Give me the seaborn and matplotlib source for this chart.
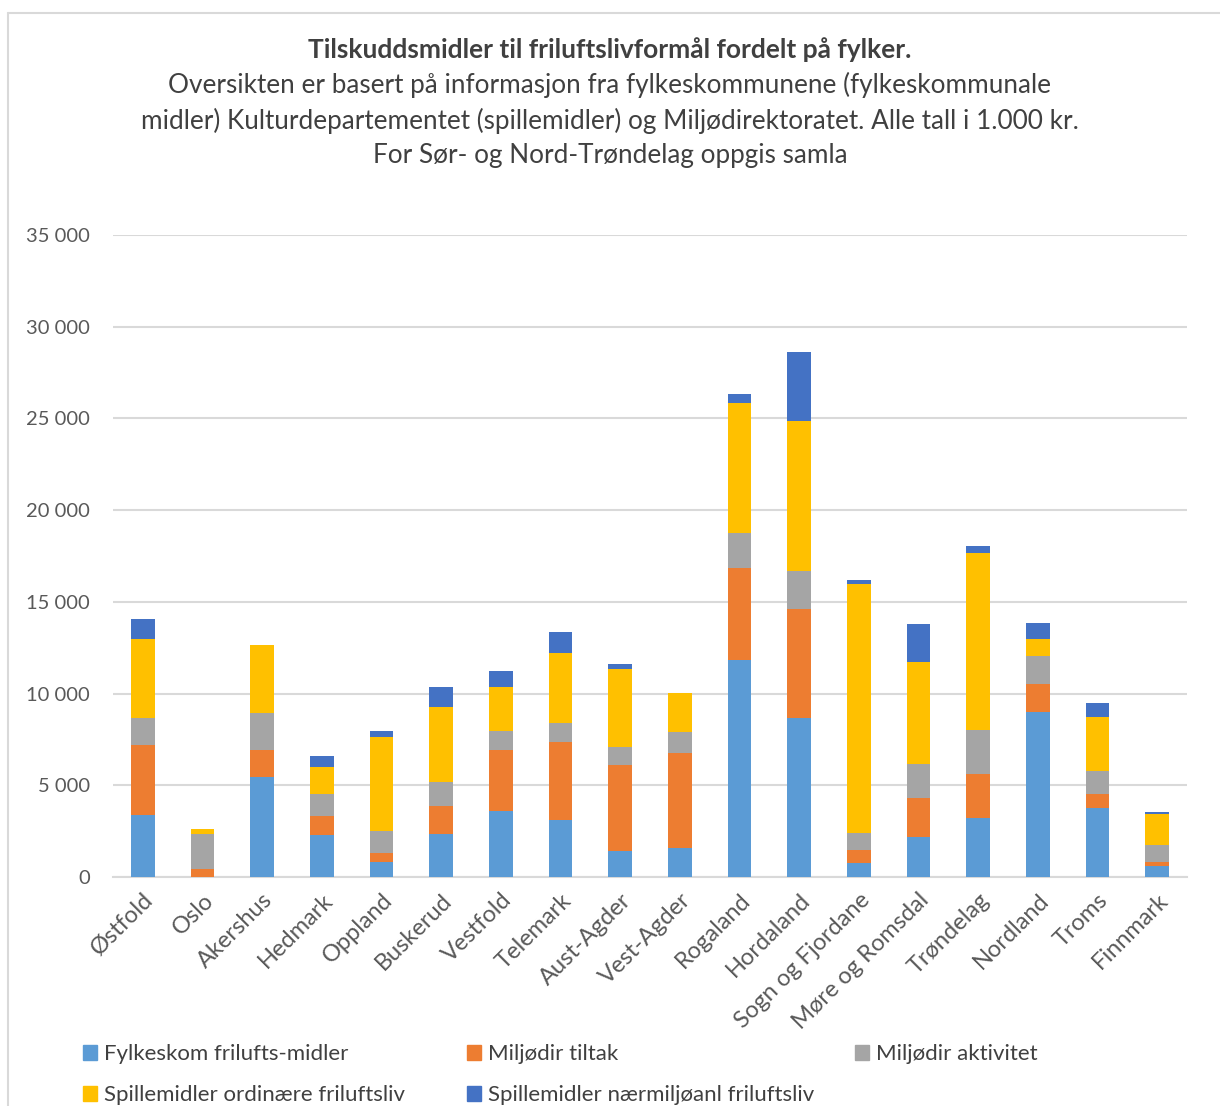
import numpy as np
import pandas as pd
import matplotlib
matplotlib.use("Agg")
import matplotlib.pyplot as plt
from matplotlib.lines import Line2D
from matplotlib.patches import Patch
import seaborn as sns

# ── Data (1 000 kr) ──────────────────────────────────────────────────────────
FYLKER = [
    "Østfold", "Oslo", "Akershus", "Hedmark", "Oppland", "Buskerud",
    "Vestfold", "Telemark", "Aust-Agder", "Vest-Agder", "Rogaland",
    "Hordaland", "Sogn og Fjordane", "Møre og Romsdal", "Trøndelag",
    "Nordland", "Troms", "Finnmark",
]

fylkeskom     = [3380, 0, 5430, 2270, 835, 2330, 3580, 3090, 1400, 1565,
                 11850, 8660, 780, 2180, 3240, 9020, 3765, 620]
miljo_tiltak  = [3795, 436, 1510, 1040, 475, 1560, 3325, 4290, 4725, 5180,
                 4990, 5960, 700, 2130, 2380, 1475, 780, 200]
miljo_aktiv   = [1510, 1890, 1980, 1220, 1220, 1310, 1055, 1035, 980, 1145,
                 1910, 2065, 930, 1855, 2420, 1565, 1220, 945]
spill_ordin   = [4307, 309, 3710, 1450, 5120, 4070, 2415, 3800, 4235, 2125,
                 7110, 8160, 13590, 5545, 9600, 910, 2945, 1655]
spill_naer    = [1055, 0, 0, 640, 290, 1070, 855, 1145, 290, 0,
                 480, 3800, 170, 2075, 420, 870, 765, 145]

SERIES = [
    "Fylkeskom frilufts-midler",
    "Miljødir tiltak",
    "Miljødir aktivitet",
    "Spillemidler ordinære friluftsliv",
    "Spillemidler nærmiljøanl friluftsliv",
]
COLORS = ["#5B9BD5", "#ED7D31", "#A5A5A5", "#FFC000", "#4472C4"]

TITLE = "Tilskuddsmidler til friluftslivformål fordelt på fylker."
SUBTITLE = ("Oversikten er basert på informasjon fra fylkeskommunene (fylkeskommunale\n"
            "midler) Kulturdepartementet (spillemidler) og Miljødirektoratet. Alle tall i 1.000 kr.\n"
            "For Sør- og Nord-Trøndelag oppgis samla")

W, H = 1220, 1106

# ── Plot ──────────────────────────────────────────────────────────────────────
sns.set_theme(style="white")
plt.rcParams["font.family"] = ["Lato", "DejaVu Sans"]

df = pd.DataFrame(
    np.array([fylkeskom, miljo_tiltak, miljo_aktiv, spill_ordin, spill_naer]).T,
    columns=SERIES,
)
cum = df[SERIES].cumsum(axis=1)
cum["Fylke"] = FYLKER

fig = plt.figure(figsize=(W / 100, H / 100), dpi=100)
ax = fig.add_axes([113 / W, 1 - 877 / H, (1187 - 113) / W, (877 - 235) / H])

# draw cumulative totals from the top series down so each segment shows
for name, color in reversed(list(zip(SERIES, COLORS))):
    sns.barplot(data=cum, x="Fylke", y=name, color=color, width=0.4,
                saturation=1, ax=ax, zorder=3, linewidth=0)

ax.set_ylim(0, 35000)
ax.set_xlim(-0.5, len(FYLKER) - 0.5)
ax.set_yticks(np.arange(0, 35001, 5000))
ax.set_yticklabels([f"{v:,}".replace(",", " ") for v in range(0, 35001, 5000)])
ax.yaxis.grid(True, color="#D9D9D9", linewidth=1.5, zorder=0)
ax.set_axisbelow(True)
for s in ["top", "right", "left"]:
    ax.spines[s].set_visible(False)
ax.spines["bottom"].set_color("#D9D9D9")
ax.spines["bottom"].set_linewidth(1.5)
ax.set_xlabel("")
ax.set_ylabel("")
ax.tick_params(axis="y", length=0, pad=16.5, labelsize=14.5, labelcolor="#595959")
ax.tick_params(axis="x", length=0, pad=9, labelsize=17, labelcolor="#595959")
for lab in ax.get_xticklabels():
    lab.set_rotation(45)
    lab.set_ha("right")
    lab.set_rotation_mode("anchor")

fig.text(0.5, 1 - 50 / H, TITLE, ha="center", va="center",
         fontsize=19, fontweight="bold", color="#404040")
fig.text(0.5, 1 - 120 / H, SUBTITLE, ha="center", va="center",
         fontsize=18.8, color="#404040", linespacing=1.45)

# legend: three single-column blocks, as in the reference
handles = [Patch(color=c, label=s) for s, c in zip(SERIES, COLORS)]
for x0, idx in [(83, [0, 3]), (467, [1, 4]), (855, [2])]:
    fig.legend([handles[i] for i in idx], [SERIES[i] for i in idx],
               loc="upper left", bbox_to_anchor=(x0 / W, 1 - 1044 / H),
               frameon=False, fontsize=16, labelcolor="#404040",
               handlelength=0.65, handleheight=0.65, handletextpad=0.3,
               labelspacing=0.95, borderaxespad=0, borderpad=0)

# chart frame (left + top)
fig.add_artist(Line2D([8 / W, 8 / W], [0, 1 - 13 / H], color="#D9D9D9", linewidth=1.5))
fig.add_artist(Line2D([8 / W, 1], [1 - 13 / H, 1 - 13 / H], color="#D9D9D9", linewidth=1.5))

fig.savefig("out.png", dpi=100)
